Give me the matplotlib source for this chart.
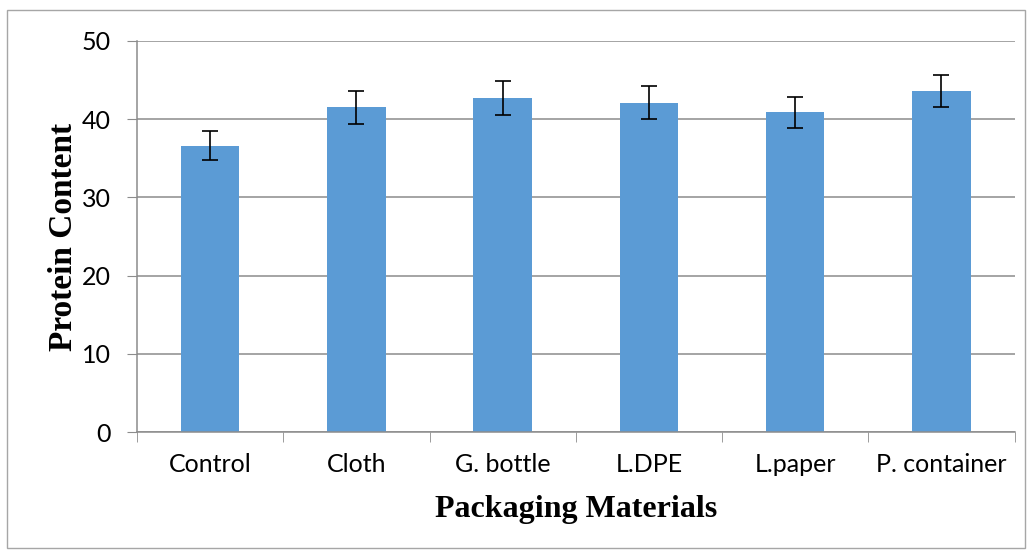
import matplotlib.pyplot as plt
import numpy as np

# Data
materials = ['Control', 'Cloth', 'G. bottle', 'L.DPE', 'L.paper', 'P. container']
protein = [36.6, 41.5, 42.7, 42.1, 40.9, 43.6]
errors = [1.85, 2.05, 2.15, 2.1, 2.0, 2.1]

fig = plt.figure(figsize=(10.30, 5.54), dpi=100)
ax = fig.add_axes([0.133, 0.22, 0.852, 0.706])

x = np.arange(len(materials))
ax.bar(x, protein, width=0.4, color='#5b9bd5', zorder=2,
       yerr=errors, error_kw=dict(ecolor='black', elinewidth=1.2, capsize=6, capthick=1.2))

ax.set_xlim(-0.5, len(materials) - 0.5)
ax.set_ylim(0, 50)
ax.set_yticks([0, 10, 20, 30, 40, 50])
ax.yaxis.grid(True, color='#8c8c8c', linewidth=1.1, zorder=0)

ax.set_xticks(x)
ax.set_xticklabels(materials, fontname='Lato', fontsize=18)
ax.set_xticks(np.arange(-0.5, len(materials)), minor=True)
ax.tick_params(axis='x', which='major', length=0, pad=15)
ax.tick_params(axis='x', which='minor', length=7, color='#8c8c8c', direction='out')
ax.tick_params(axis='y', length=7, color='#8c8c8c', labelsize=18, pad=12)
for lab in ax.get_yticklabels():
    lab.set_fontname('Lato')

for side in ['top', 'right']:
    ax.spines[side].set_visible(False)
for side in ['left', 'bottom']:
    ax.spines[side].set_color('#8c8c8c')
    ax.spines[side].set_linewidth(1.1)

ax.set_xlabel('Packaging Materials', fontname='Liberation Serif', fontweight='bold',
              fontsize=23, labelpad=14)
ax.set_ylabel('Protein Content', fontname='Liberation Serif', fontweight='bold',
              fontsize=24, labelpad=2)

# light frame around the chart
fig.patches.append(plt.Rectangle((0.007, 0.01), 0.988, 0.972, transform=fig.transFigure,
                                 fill=False, edgecolor='#a6a6a6', linewidth=1))

fig.savefig('out.png', dpi=100)
